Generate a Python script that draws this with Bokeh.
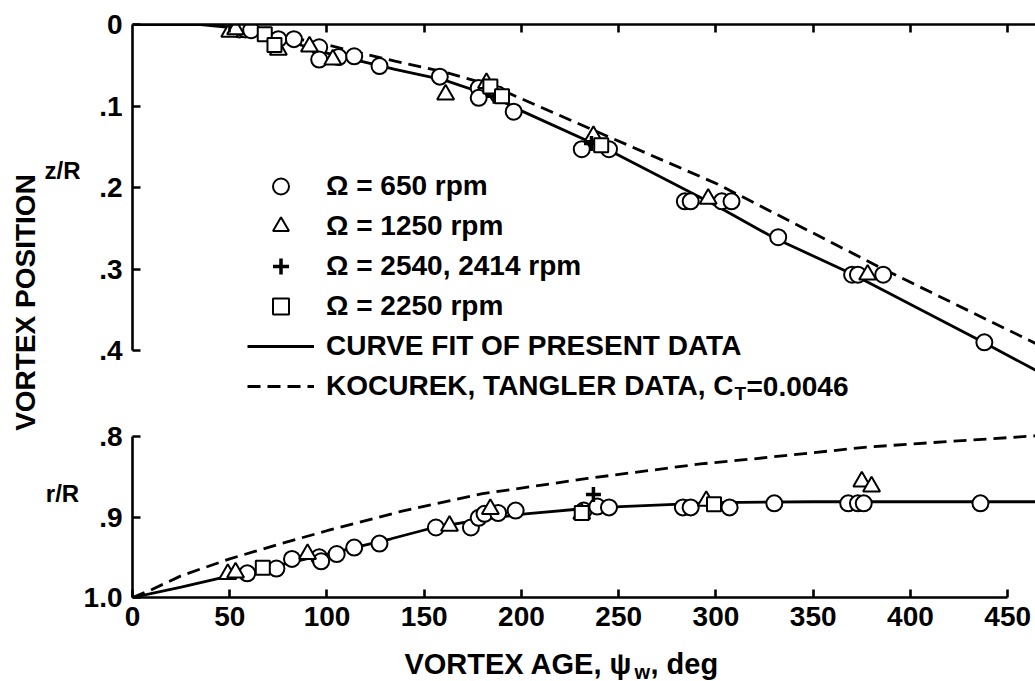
import math
from bokeh.plotting import figure
from bokeh.models import Range1d, FixedTicker, Label, Legend, LegendItem
from bokeh.layouts import row, column
from bokeh.embed import file_html
from bokeh.resources import INLINE

FONT = "Liberation Sans"

# ---------------- data ----------------
age_ticks = [0, 50, 100, 150, 200, 250, 300, 350, 400, 450]
z_ticks = [0.0, 0.1, 0.2, 0.3, 0.4]
z_tick_labels = ["0", ".1", ".2", ".3", ".4"]
r_ticks = [0.8, 0.9, 1.0]
r_tick_labels = [".8", ".9", "1.0"]

# z/R (vortex axial position) panel
z_fit_age = [0, 35, 60, 100, 135, 160, 185, 200, 248, 300, 330, 370, 436, 465]
z_fit = [0.0, 0.0, 0.006, 0.035, 0.055, 0.068, 0.088, 0.106, 0.158, 0.222, 0.262, 0.306, 0.388, 0.425]
z_koc_age = [0, 40, 60, 100, 135, 160, 185, 197, 248, 301, 386, 465]
z_koc = [0.0, 0.0, 0.005, 0.025, 0.045, 0.058, 0.075, 0.088, 0.141, 0.196, 0.300, 0.392]

z650_age = [55, 58, 61, 75, 83, 96, 96, 106, 114, 127, 158, 178, 178, 188, 196, 231, 245,
            284, 287, 303, 308, 332, 370, 373, 386, 438]
z650 = [0.006, 0.006, 0.007, 0.018, 0.018, 0.028, 0.043, 0.040, 0.039, 0.051, 0.064, 0.078, 0.090,
        0.086, 0.107, 0.153, 0.153, 0.217, 0.217, 0.217, 0.217, 0.261, 0.307, 0.307, 0.307, 0.390]
z1250_age = [50, 53, 75, 91, 103, 161, 182, 237, 296, 378]
z1250 = [0.009, 0.006, 0.031, 0.027, 0.043, 0.086, 0.072, 0.137, 0.214, 0.307]
z2540_age = [186, 236]
z2540 = [0.088, 0.146]
z2250_age = [68, 73, 184, 190, 241]
z2250 = [0.012, 0.025, 0.076, 0.088, 0.148]

# r/R (vortex radial position) panel
r_fit_age = [0, 25, 50, 75, 100, 133, 155, 180, 202, 230, 251, 300, 350, 465]
r_fit = [1.0, 0.987, 0.973, 0.960, 0.946, 0.927, 0.913, 0.903, 0.896, 0.890, 0.887, 0.882, 0.881, 0.881]
r_koc_age = [0, 10, 25, 50, 75, 100, 138, 180, 234, 292, 318, 378, 420, 465]
r_koc = [1.0, 0.990, 0.973, 0.952, 0.934, 0.917, 0.893, 0.871, 0.852, 0.834, 0.828, 0.813, 0.806, 0.799]

r650_age = [59, 74, 82, 96, 97, 105, 114, 127, 156, 174, 178, 181, 188, 197, 232, 239, 245,
            283, 287, 307, 330, 368, 373, 376, 436]
r650 = [0.970, 0.964, 0.952, 0.950, 0.955, 0.946, 0.938, 0.933, 0.913, 0.913, 0.901, 0.896, 0.895,
        0.892, 0.892, 0.887, 0.888, 0.888, 0.888, 0.888, 0.883, 0.883, 0.883, 0.883, 0.883]
r1250_age = [49, 53, 90, 163, 184, 231, 295, 375, 380]
r1250 = [0.971, 0.969, 0.946, 0.911, 0.890, 0.896, 0.880, 0.856, 0.862]
r2540_age = [237]
r2540 = [0.872]
r2250_age = [67, 231, 299]
r2250 = [0.963, 0.895, 0.884]

legend_labels = ["\u03a9 = 650 rpm", "\u03a9 = 1250 rpm", "\u03a9 = 2540, 2414 rpm",
                 "\u03a9 = 2250 rpm", "CURVE FIT OF PRESENT DATA", "KOCUREK, TANGLER DATA, C"]

# ---------------- styling helpers ----------------
LW = 2.6
TICK_FS = "28px"
xr = Range1d(0, 464.3)


def style_axis(ax, ticks, labels=None):
    ax.ticker = FixedTicker(ticks=ticks)
    ax.minor_tick_line_color = None
    ax.major_tick_in = 8
    ax.major_tick_out = 0
    ax.major_tick_line_width = LW
    ax.axis_line_width = LW
    ax.axis_line_color = "black"
    ax.major_tick_line_color = "black"
    ax.major_label_text_font = FONT
    ax.major_label_text_font_style = "bold"
    ax.major_label_text_font_size = TICK_FS
    ax.major_label_text_color = "black"
    if labels is not None:
        ax.major_label_overrides = {t: l for t, l in zip(ticks, labels)}


def txt(x, y, text, size, align="left", baseline="middle", angle=0.0):
    return Label(x=x, y=y, x_units="screen", y_units="screen", text=text, angle=angle,
                 text_font=FONT, text_font_style="bold", text_font_size=size,
                 text_color="black", text_align=align, text_baseline=baseline)


def add_markers(p, xs, ys):
    rs = []
    rs.append(p.scatter(xs[0], ys[0], marker="circle", size=16, fill_color="white",
                        line_color="black", line_width=2))
    rs.append(p.scatter(xs[1], ys[1], marker="triangle", size=17, fill_color="white",
                        line_color="black", line_width=2))
    rs.append(p.scatter(xs[2], ys[2], marker="cross", size=15, line_color="black", line_width=3.5))
    rs.append(p.scatter(xs[3], ys[3], marker="square", size=14, fill_color="white",
                        line_color="black", line_width=2))
    return rs


def blank_fig(w, h):
    f = figure(width=w, height=h, x_range=Range1d(0, 1), y_range=Range1d(0, 1),
               output_backend="svg", toolbar_location=None,
               x_axis_location=None, y_axis_location=None,
               min_border_left=0, min_border_right=0, min_border_top=0, min_border_bottom=0)
    f.grid.visible = False
    f.outline_line_color = None
    return f


# ---------------- top panel: z/R ----------------
pa = figure(width=955, height=410, x_range=xr, y_range=Range1d(0.4736, 0.0),
            output_backend="svg", toolbar_location=None, x_axis_location="above",
            min_border_left=50, min_border_right=0, min_border_top=24, min_border_bottom=0)
pa.outline_line_color = None
pa.grid.visible = False
style_axis(pa.xaxis[0], age_ticks[1:])
pa.xaxis[0].major_label_text_font_size = "1px"
pa.xaxis[0].major_label_text_color = None
pa.xaxis[0].major_label_standoff = 0
style_axis(pa.yaxis[0], z_ticks, z_tick_labels)
pa.yaxis[0].bounds = (0, 0.4)
pa.yaxis[0].major_label_standoff = 10

fit_a = pa.line(z_fit_age, z_fit, line_color="black", line_width=2.8)
koc_a = pa.line(z_koc_age, z_koc, line_color="black", line_width=2.8, line_dash="13 7")
mk_a = add_markers(pa, [z650_age, z1250_age, z2540_age, z2250_age], [z650, z1250, z2540, z2250])

legend = Legend(items=[LegendItem(label=legend_labels[0], renderers=[mk_a[0]]),
                       LegendItem(label=legend_labels[1], renderers=[mk_a[1]]),
                       LegendItem(label=legend_labels[2], renderers=[mk_a[2]]),
                       LegendItem(label=legend_labels[3], renderers=[mk_a[3]]),
                       LegendItem(label=legend_labels[4], renderers=[fit_a]),
                       LegendItem(label=legend_labels[5], renderers=[koc_a])],
                location=(115, 4), glyph_width=67, glyph_height=40, label_height=40,
                spacing=0, padding=0, margin=0, label_standoff=12,
                border_line_color=None, background_fill_alpha=0,
                label_text_font=FONT, label_text_font_style="bold",
                label_text_font_size="28px", label_text_color="black")
pa.add_layout(legend, "center")

# subscript part of the last legend entry
pa.add_layout(txt(602, 17, "T", "19px"))
pa.add_layout(txt(614, 24, "=0.0046", "28px"))

# ---------------- bottom panel: r/R ----------------
pb = figure(width=955, height=232, x_range=xr, y_range=Range1d(1.0, 0.78),
            output_backend="svg", toolbar_location=None,
            min_border_left=50, min_border_right=0, min_border_top=10, min_border_bottom=45)
pb.outline_line_color = None
pb.grid.visible = False
style_axis(pb.xaxis[0], age_ticks)
pb.xaxis[0].bounds = (0, 450)
pb.xaxis[0].major_label_standoff = 9
style_axis(pb.yaxis[0], r_ticks, r_tick_labels)
pb.yaxis[0].bounds = (0.8, 1.0)
pb.yaxis[0].major_label_standoff = 10

pb.line(r_fit_age, r_fit, line_color="black", line_width=2.8)
pb.line(r_koc_age, r_koc, line_color="black", line_width=2.8, line_dash="13 7")
add_markers(pb, [r650_age, r1250_age, r2540_age, r2250_age], [r650, r1250, r2540, r2250])

# ---------------- shared y title and panel labels ----------------
pl = blank_fig(80, 642)
pl.add_layout(txt(25, 340, "VORTEX POSITION", "28px", align="center", angle=math.pi / 2))
pl.add_layout(txt(62, 472, "z/R", "24px", align="center"))
pl.add_layout(txt(62, 149, "r/R", "24px", align="center"))

# ---------------- x axis title (with subscript), full width strip ----------------
pt = blank_fig(1035, 39)
pt.add_layout(txt(632, 18, "VORTEX AGE, \u03c8", "29px", align="right"))
pt.add_layout(txt(634, 10, "w", "20px"))
pt.add_layout(txt(650, 18, ", deg", "29px"))

layout = column(row(pl, column(pa, pb)), pt)
open("out.html", "w").write(file_html(layout, INLINE))
